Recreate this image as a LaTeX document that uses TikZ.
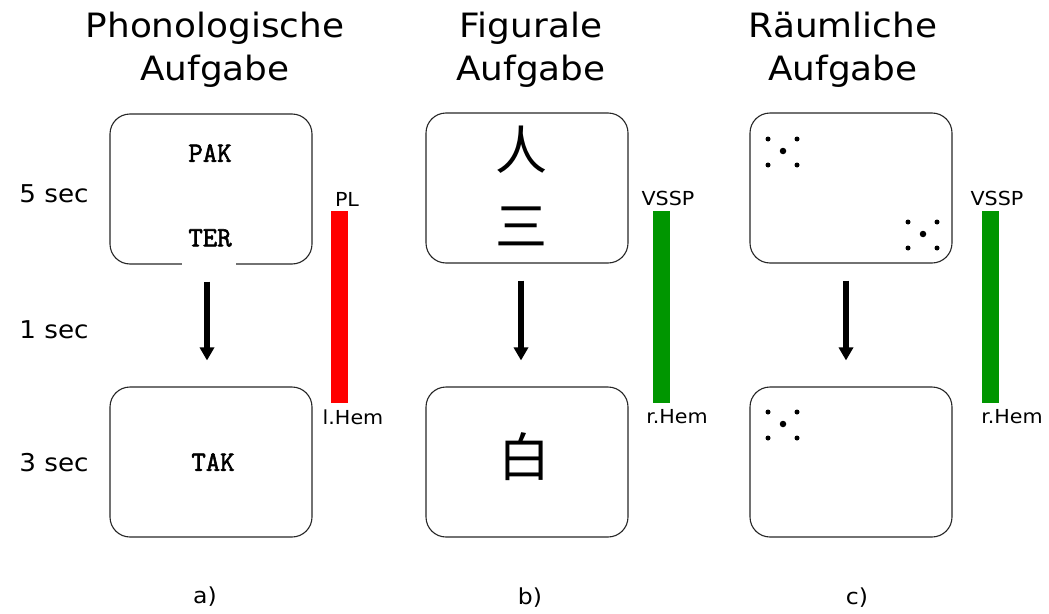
\documentclass[tikz,border=0pt]{standalone}
\usepackage{fontspec}
\setmainfont{DejaVu Sans}[FakeStretch=1.07]
\newfontfamily\monob{Latin Modern Mono}[FakeBold=2]
\newfontfamily\cjk{Noto Sans CJK SC}
\usetikzlibrary{arrows.meta}
\begin{document}
\begin{tikzpicture}[x=1pt,y=-1pt,
  panel/.style={draw=black!85,line width=1.1pt,rounded corners=20pt,minimum width=202pt,minimum height=150pt,inner sep=0pt},
  title/.style={font=\fontsize{33.5}{43}\selectfont,align=center},
  timelbl/.style={font=\fontsize{24.5}{28}\selectfont},
  caplbl/.style={font=\fontsize{22}{26}\selectfont},
  barlbl/.style={font=\fontsize{19.3}{22}\selectfont},
  word/.style={font=\monob\fontsize{28}{30}\selectfont},
  glyph/.style={font=\cjk\fontsize{52}{56}\selectfont},
  arr/.style={line width=5.5pt,-{Triangle[width=14pt,length=13pt]},shorten <=17pt,shorten >=26pt},
  bar/.style={minimum width=17pt,minimum height=192pt,inner sep=0pt},
  dot/.style={circle,fill=black,inner sep=0pt,minimum size=5pt},
  bdot/.style={circle,fill=black,inner sep=0pt,minimum size=6.5pt}]
\useasboundingbox (0,0) rectangle (1049,613);
% titles
\node[title] (ta) at (215,50) {Phonologische\\Aufgabe};
\node[title] (tb) at (531,50) {Figurale\\Aufgabe};
\node[title] (tc) at (843,50) {Räumliche\\Aufgabe};
% time labels
\node[timelbl] (s5) at (54,194) {5 sec};
\node[timelbl] (s1) at (54,330) {1 sec};
\node[timelbl] (s3) at (54,463) {3 sec};
% panels
\node[panel] (a1) at (211,189) {};
\node[panel] (a2) at (211,462) {};
\node[panel] (b1) at (527,188) {};
\node[panel] (b2) at (527,462) {};
\node[panel] (c1) at (851,188) {};
\node[panel] (c2) at (851,462) {};
% gap in the border under TER
\node[fill=white,minimum width=54pt,minimum height=4pt,inner sep=0pt] (gap) at (209,264) {};
% panel contents
\node[word] (pak) at (210,153) {PAK};
\node[word] (ter) at (210,238) {TER};
\node[word] (tak) at (213,462) {TAK};
\node[glyph] (g1) at (521,150) {人};
\node[glyph] (g2) at (521,226) {三};
\node[glyph] (g3) at (524,457) {白};
\foreach \ox/\oy/\n in {768/139/p, 908/222/q, 768/412/r}{
  \node[dot] (\n1) at (\ox,\oy) {};
  \node[dot] (\n2) at (\ox+29,\oy) {};
  \node[bdot] (\n3) at (\ox+15,\oy+12) {};
  \node[dot] (\n4) at (\ox,\oy+26) {};
  \node[dot] (\n5) at (\ox+29,\oy+26) {};
}
% arrows
\draw[arr] (a1.south -| 207,0) -- (a2.north -| 207,0);
\draw[arr] (b1.south -| 521,0) -- (b2.north -| 521,0);
\draw[arr] (c1.south -| 846,0) -- (c2.north -| 846,0);
% bars
\node[bar,fill=red] (ra) at (339.5,307) {};
\node[bar,fill={rgb,255:red,0;green,150;blue,0}] (rb) at (661.5,307) {};
\node[bar,fill={rgb,255:red,0;green,150;blue,0}] (rc) at (990,307) {};
\node[barlbl] (pl) at (347,199) {PL};
\node[barlbl] (lh) at (353,417) {l.Hem};
\node[barlbl] (vb) at (668,198) {VSSP};
\node[barlbl] (rhb) at (677,417) {r.Hem};
\node[barlbl] (vc) at (997,198) {VSSP};
\node[barlbl] (rhc) at (1012,417) {r.Hem};
% captions
\node[caplbl] (ca) at (205,597) {a)};
\node[caplbl] (cb) at (530,598) {b)};
\node[caplbl] (cc) at (857,598) {c)};
\end{tikzpicture}
\end{document}
